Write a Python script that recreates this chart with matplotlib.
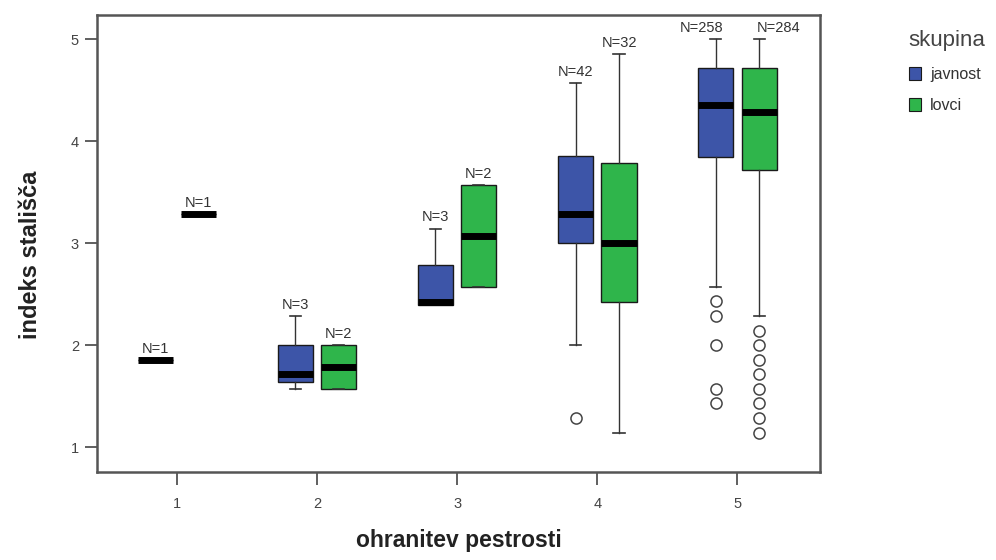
import matplotlib as mpl
import matplotlib.pyplot as plt
from matplotlib.patches import Patch

mpl.use("agg")
plt.rcParams["font.family"] = ["Liberation Sans", "DejaVu Sans"]

# categories of "ohranitev pestrosti"
categories = [1, 2, 3, 4, 5]
groups = ["javnost", "lovci"]
colors = {"javnost": "#3d55a8", "lovci": "#2fb54b"}

# box statistics (per category)
javnost_n = [1, 3, 3, 42, 258]
javnost_whislo = [1.857, 1.571, 2.39, 2.0, 2.571]
javnost_q1 = [1.857, 1.643, 2.39, 3.0, 3.84]
javnost_med = [1.857, 1.714, 2.42, 3.286, 4.357]
javnost_q3 = [1.857, 2.0, 2.786, 3.857, 4.714]
javnost_whishi = [1.857, 2.286, 3.143, 4.571, 5.0]
javnost_fliers = [[], [], [], [1.286], [2.429, 2.286, 2.0, 1.571, 1.429]]

lovci_n = [1, 2, 2, 32, 284]
lovci_whislo = [3.286, 1.571, 2.571, 1.143, 2.286]
lovci_q1 = [3.286, 1.571, 2.571, 2.42, 3.714]
lovci_med = [3.286, 1.786, 3.071, 3.0, 4.286]
lovci_q3 = [3.286, 2.0, 3.571, 3.786, 4.714]
lovci_whishi = [3.286, 2.0, 3.571, 4.857, 5.0]
lovci_fliers = [[], [], [], [], [2.143, 2.0, 1.857, 1.714, 1.571, 1.429, 1.286, 1.143]]


def make_stats(whislo, q1, med, q3, whishi, fliers):
    return [
        {"whislo": a, "q1": b, "med": c, "q3": d, "whishi": e, "fliers": f}
        for a, b, c, d, e, f in zip(whislo, q1, med, q3, whishi, fliers)
    ]


data = {
    "javnost": (make_stats(javnost_whislo, javnost_q1, javnost_med, javnost_q3,
                           javnost_whishi, javnost_fliers), javnost_n, -0.155),
    "lovci": (make_stats(lovci_whislo, lovci_q1, lovci_med, lovci_q3,
                         lovci_whishi, lovci_fliers), lovci_n, 0.155),
}
# labels that SPSS pushes sideways so they don't collide (points)
nudge = {("javnost", 5): -10, ("lovci", 5): 14}

fig = plt.figure(figsize=(9.96, 5.6), dpi=100)
ax = fig.add_axes([0.0974, 0.157, 0.726, 0.816])

for g in groups:
    stats, ns, off = data[g]
    pos = [c + off for c in categories]
    ax.bxp(
        stats, positions=pos, widths=0.25, capwidths=0.08, patch_artist=True,
        showfliers=True,
        boxprops=dict(facecolor=colors[g], edgecolor="#1a1a1a", linewidth=1.0),
        medianprops=dict(color="black", linewidth=5.0, solid_capstyle="butt"),
        whiskerprops=dict(color="#333333", linewidth=1.0),
        capprops=dict(color="#333333", linewidth=1.2),
        flierprops=dict(marker="o", markersize=8, markerfacecolor="none",
                        markeredgecolor="#444444", markeredgewidth=1.1),
    )
    for c, x, s, n in zip(categories, pos, stats, ns):
        ax.annotate(f"N={n}", (x, s["whishi"]), xytext=(nudge.get((g, c), 0), 3),
                    textcoords="offset points", ha="center", va="bottom",
                    fontsize=10.5, color="#333333")

ax.set_xlim(0.43, 5.59)
ax.set_ylim(0.755, 5.235)
ax.set_xticks(categories)
ax.set_xticklabels([str(c) for c in categories])
ax.set_yticks([1, 2, 3, 4, 5])
ax.tick_params(axis="both", colors="#444444", labelsize=10.5, width=1.2, length=9)
ax.tick_params(axis="x", pad=9)
ax.tick_params(axis="y", pad=4)
for sp in ax.spines.values():
    sp.set_color("#555555")
    sp.set_linewidth(1.8)

ax.set_xlabel("ohranitev pestrosti", fontsize=16.5, fontweight="bold",
              color="#222222", labelpad=13)
ax.set_ylabel("indeks stališča", fontsize=17, fontweight="bold",
              color="#222222")
ax.yaxis.set_label_coords(-0.076, 0.475)

handles = [Patch(facecolor=colors[g], edgecolor="#1a1a1a", linewidth=0.8, label=g)
           for g in groups]
leg = fig.legend(handles=handles, title="skupina", loc="upper left",
                 bbox_to_anchor=(0.906, 0.958), frameon=False, fontsize=11.5,
                 title_fontsize=16, handlelength=0.75, handleheight=0.9,
                 handletextpad=0.6, labelspacing=1.0, borderaxespad=0.0)
leg._legend_box.align = "left"
leg.get_title().set_color("#444444")
for t in leg.get_texts():
    t.set_color("#333333")

fig.savefig("out.png", dpi=100)
